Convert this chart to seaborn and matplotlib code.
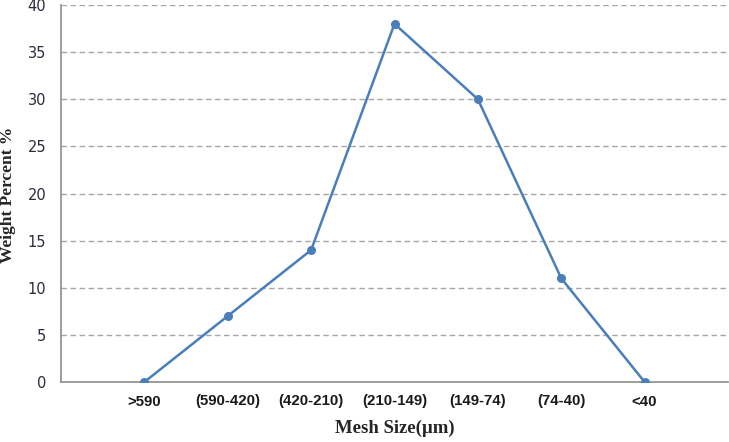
import matplotlib
matplotlib.use('Agg')
import matplotlib.pyplot as plt
import seaborn as sns
import pandas as pd

# --- Daten ---
mesh_sizes = ['>590', '(590-420)', '(420-210)', '(210-149)', '(149-74)', '(74-40)', '<40']
weight_percent = [0, 7, 14, 38, 30, 11, 0]
y_ticks = [0, 5, 10, 15, 20, 25, 30, 35, 40]

df = pd.DataFrame({'Mesh Size': mesh_sizes, 'Weight Percent': weight_percent})
df['pos'] = range(len(mesh_sizes))

sns.set_style('white')

fig = plt.figure(figsize=(7.29, 4.42), dpi=100)
ax = fig.add_axes([61 / 729, 1 - 382 / 442, (728 - 61) / 729, (382 - 5) / 442])

sns.lineplot(data=df, x='pos', y='Weight Percent', ax=ax, color='#4A7EBB',
             linewidth=1.8, marker='o', markersize=6.5, markeredgewidth=0,
             sort=False, zorder=5)

# gestrichelte Gitterlinien
for t in y_ticks[1:]:
    ax.axhline(t, color='#A6A6A6', linewidth=1, linestyle=(0, (4, 2.5)), zorder=1)

ax.set_xlim(-1, len(mesh_sizes))
ax.set_ylim(0, 40)
ax.set_xticks(range(len(mesh_sizes) + 1))
ax.set_xticklabels(mesh_sizes + [''], fontsize=10.8, fontweight='bold',
                   family='Liberation Sans', color='#1a1a1a')
ax.set_yticks(y_ticks)
ax.set_yticklabels([str(t) for t in y_ticks], fontsize=10.5, family='DejaVu Sans',
                   color='#2b2b3b')

for side in ['top', 'right']:
    ax.spines[side].set_visible(False)
for side in ['left', 'bottom']:
    ax.spines[side].set_color('#8C8C8C')
    ax.spines[side].set_linewidth(1.2)

ax.tick_params(axis='x', direction='in', length=4, width=1, color='#8C8C8C', pad=9)
ax.tick_params(axis='y', direction='out', length=4, width=1, color='#8C8C8C', pad=6.5)

ax.set_xlabel('Mesh Size(µm)', fontsize=13.5, fontweight='bold',
              family='Liberation Serif', labelpad=8)
ax.set_ylabel('Weight Percent %', fontsize=12.5, fontweight='bold',
              family='Liberation Serif')
ax.yaxis.set_label_coords(-45 / 667, (382 - 195) / 377)

fig.savefig('out.png', dpi=100)
